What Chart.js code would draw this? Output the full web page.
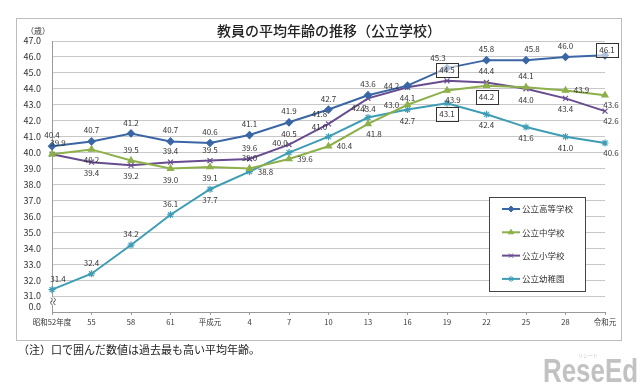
<!DOCTYPE html>
<html lang="ja">
<head>
<meta charset="UTF-8">
<title>教員の平均年齢の推移（公立学校）</title>
<script src="https://cdn.jsdelivr.net/npm/chart.js"></script>
<style>
  body { margin: 0; background: #fff; }
  #wrap { width: 640px; height: 387px; }
</style>
</head>
<body>
<div id="wrap"><canvas id="ageChart" width="640" height="387"></canvas></div>
<script>
// data
const years = ['昭和52年度', '55', '58', '61', '平成元', '4', '7', '10', '13', '16', '19', '22', '25', '28', '令和元'];
const highSchool = [40.4, 40.7, 41.2, 40.7, 40.6, 41.1, 41.9, 42.7, 43.6, 44.2, 45.3, 45.8, 45.8, 46.0, 46.1];
const juniorHigh = [39.9, 40.2, 39.5, 39.0, 39.1, 39.0, 39.6, 40.4, 41.8, 43.0, 43.9, 44.2, 44.1, 43.9, 43.6];
const elementary = [39.9, 39.4, 39.2, 39.4, 39.5, 39.6, 40.5, 41.8, 43.4, 44.1, 44.5, 44.4, 44.0, 43.4, 42.6];
const kindergarten = [31.4, 32.4, 34.2, 36.1, 37.7, 38.8, 40.0, 41.0, 42.2, 42.7, 43.1, 42.4, 41.6, 41.0, 40.6];
const seriesNames = ['公立高等学校', '公立中学校', '公立小学校', '公立幼稚園'];
const yTickValues = [31, 32, 33, 34, 35, 36, 37, 38, 39, 40, 41, 42, 43, 44, 45, 46, 47];
const brokenZero = 30.35; // where the "0.0" of the broken axis sits

// where each value label goes (a above, b below, l left, r right, n none, c on point)
const labelPlace = [
  ['a','a','a','a','a','a','a','a','a','l','al','a','ar','a','c'],
  ['ar','b','a','b','b','a','r','r','br','l','br','b','a','r','br'],
  ['n','b','b','a','a','a','a','al','b','b','a','a','b','b','br'],
  ['ar','a','a','a','b','r','al','al','al','b','b','b','b','b','br']
];
// labels boxed as the highest ever
const boxed = { '0-14': true, '1-11': true, '2-10': true, '3-10': true };

const shift = {
  a: [0, -11], b: [0, 11], l: [-16, 0], r: [16, 0], c: [2, -5],
  ar: [6, -11], al: [-9, -10], br: [6, 10]
};

const FONT = '"Noto Sans CJK JP", "Noto Sans", sans-serif';

const valueLabels = {
  id: 'valueLabels',
  afterDatasetsDraw(chart) {
    const ctx = chart.ctx;
    ctx.save();
    ctx.font = '8px ' + FONT;
    ctx.textAlign = 'center';
    ctx.textBaseline = 'middle';
    chart.data.datasets.forEach((ds, di) => {
      const meta = chart.getDatasetMeta(di);
      meta.data.forEach((pt, i) => {
        const code = labelPlace[di][i];
        if (code === 'n') return;
        const off = shift[code];
        const x = pt.x + off[0], y = pt.y + off[1];
        const txt = ds.data[i].toFixed(1);
        if (boxed[di + '-' + i]) {
          const w = ctx.measureText(txt).width + 6;
          ctx.fillStyle = 'rgba(255,255,255,0.6)';
          ctx.fillRect(x - w / 2, y - 7, w, 14);
          ctx.strokeStyle = '#333';
          ctx.lineWidth = 1;
          ctx.strokeRect(Math.round(x - w / 2) + 0.5, Math.round(y - 7) + 0.5, Math.round(w), 14);
        }
        ctx.fillStyle = '#333';
        ctx.fillText(txt, x, y);
      });
    });
    ctx.restore();
  }
};

const decorations = {
  id: 'decorations',
  beforeDraw(chart) {
    const ctx = chart.ctx;
    ctx.save();
    ctx.fillStyle = '#fff';
    ctx.fillRect(0, 0, chart.width, chart.height);
    ctx.strokeStyle = '#bdbdbd';
    ctx.lineWidth = 1;
    ctx.strokeRect(16.5, 18.5, 605, 322);
    ctx.fillStyle = '#222';
    ctx.font = '500 14px ' + FONT;
    ctx.textAlign = 'center';
    ctx.textBaseline = 'middle';
    ctx.fillText('教員の平均年齢の推移（公立学校）', 329, 31);
    ctx.font = '8px ' + FONT;
    ctx.fillStyle = '#333';
    ctx.fillText('（歳）', 38, 31);
    ctx.restore();
  },
  afterDraw(chart) {
    const ctx = chart.ctx;
    const area = chart.chartArea;
    ctx.save();
    // axis break mark
    const yb = chart.scales.y.getPixelForValue(30.68);
    ctx.fillStyle = '#fff';
    ctx.fillRect(area.left - 2, yb - 4, 5, 8);
    ctx.fillStyle = '#555';
    ctx.font = '10px ' + FONT;
    ctx.translate(area.left + 1, yb);
    ctx.rotate(Math.PI / 2);
    ctx.textAlign = 'center';
    ctx.textBaseline = 'middle';
    ctx.fillText('≈', 0, 0);
    ctx.restore();

    // legend box inside the plot
    ctx.save();
    const lx = 489, ly = 197, lw = 96, lh = 94;
    ctx.fillStyle = '#fff';
    ctx.fillRect(lx, ly, lw, lh);
    ctx.strokeStyle = '#444';
    ctx.lineWidth = 1;
    ctx.strokeRect(lx + 0.5, ly + 0.5, lw, lh);
    ctx.font = '8.5px ' + FONT;
    ctx.textBaseline = 'middle';
    ctx.textAlign = 'left';
    chart.data.datasets.forEach((ds, i) => {
      const y = ly + 12 + i * 23.3;
      ctx.strokeStyle = ds.borderColor;
      ctx.fillStyle = ds.borderColor;
      ctx.lineWidth = 2;
      ctx.beginPath();
      ctx.moveTo(lx + 13, y);
      ctx.lineTo(lx + 31, y);
      ctx.stroke();
      ctx.lineWidth = 1;
      Chart.helpers.drawPoint(ctx, {
        pointStyle: ds.pointStyle, radius: 3, borderWidth: 1, rotation: 0
      }, lx + 22, y);
      ctx.fillStyle = '#333';
      ctx.fillText(ds.label, lx + 33, y);
    });
    ctx.restore();

    // note and logo
    ctx.save();
    ctx.fillStyle = '#222';
    ctx.font = '11px ' + FONT;
    ctx.textBaseline = 'middle';
    ctx.fillText('（注）口で囲んだ数値は過去最も高い平均年齢。', 18, 350);
    ctx.font = 'bold 34px "Liberation Sans", Arial, sans-serif';
    const tw = ctx.measureText('ReseEd').width;
    ctx.translate(543, 385);
    ctx.scale(95 / tw, 1);
    ctx.fillStyle = '#c2c2c2';
    ctx.fillText('ReseEd', 0, -12);
    ctx.restore();
    ctx.save();
    ctx.fillStyle = '#c8c8c8';
    ctx.font = '5px ' + FONT;
    ctx.fillText('リシード', 578, 357);
    ctx.restore();
  }
};

function series(label, data, color, style) {
  return {
    label: label,
    data: data,
    borderColor: color,
    backgroundColor: color,
    borderWidth: 2,
    pointStyle: style,
    pointRadius: 3.5,
    pointBorderWidth: 1.2,
    pointBorderColor: color,
    pointBackgroundColor: color,
    tension: 0
  };
}

new Chart(document.getElementById('ageChart').getContext('2d'), {
  type: 'line',
  data: {
    labels: years,
    datasets: [
      series(seriesNames[0], highSchool, '#3a66a5', 'rectRot'),
      series(seriesNames[1], juniorHigh, '#8db04a', 'triangle'),
      series(seriesNames[2], elementary, '#684c8f', 'crossRot'),
      series(seriesNames[3], kindergarten, '#3e9db5', 'star')
    ]
  },
  options: {
    responsive: false,
    animation: false,
    layout: { padding: { left: 0, right: 35, top: 41, bottom: 55 } },
    plugins: {
      legend: { display: false },
      title: { display: false },
      tooltip: { enabled: false }
    },
    scales: {
      x: {
        offset: false,
        grid: { display: true, drawOnChartArea: false, drawTicks: true, tickLength: 3, color: '#999' },
        border: { color: '#999' },
        ticks: { color: '#333', font: { size: 7.5, family: FONT }, padding: 3, maxRotation: 0, autoSkip: false },
        afterFit: (s) => { s.height = 20; }
      },
      y: {
        min: 30,
        max: 47,
        afterBuildTicks: (axis) => {
          axis.ticks = [brokenZero].concat(yTickValues).map(v => ({ value: v }));
        },
        grid: {
          drawTicks: false,
          color: (c) => (c.tick && c.tick.value < 31 ? 'rgba(0,0,0,0)' : '#c8c8c8')
        },
        border: { color: '#999' },
        ticks: {
          color: '#333',
          padding: 11,
          font: { size: 9, family: FONT },
          callback: (v) => (v < 31 ? '0.0' : Number(v).toFixed(1))
        },
        afterFit: (s) => { s.width = 52; }
      }
    }
  },
  plugins: [decorations, valueLabels]
});
</script>
</body>
</html>
